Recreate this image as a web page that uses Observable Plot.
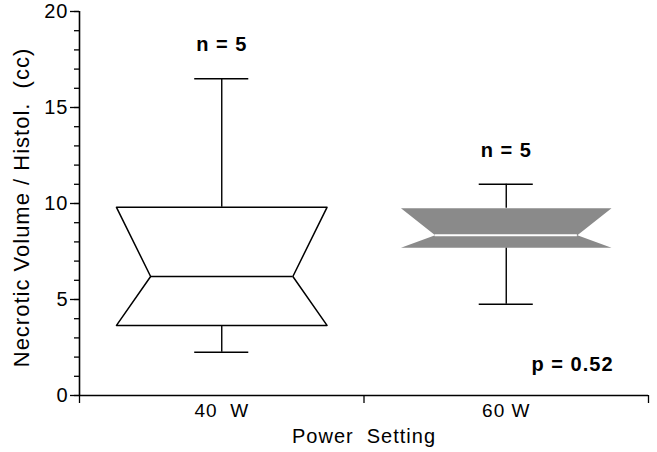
<!DOCTYPE html>
<html><head><meta charset="utf-8">
<script src="https://cdn.jsdelivr.net/npm/d3@7"></script>
<script src="https://cdn.jsdelivr.net/npm/@observablehq/plot@0.6"></script>
<style>
body{margin:0;background:#fff}
svg{font-family:Arial,"Liberation Sans",sans-serif;color:#000}
</style>
</head><body><div id="chart"></div>
<script>
const categories = ["40  W", "60 W"];
const minVals = [2.25, 4.75];
const q1Vals = [3.65, 7.7];
const medVals = [6.2, 8.35];
const q3Vals = [9.8, 9.75];
const maxVals = [16.5, 11.0];
const nLabels = ["n = 5", "n = 5"];
const pLabel = "p = 0.52";
const yMajorTicks = [0, 5, 10, 15, 20];
const yMinorTicks = d3.range(0, 21);
const xLabel = "Power  Setting";
const yLabel = "Necrotic Volume / Histol.  (cc)";

const boxes = categories.map((c, i) => ({
  cat: c, x: i + 0.5, min: minVals[i], q1: q1Vals[i], med: medVals[i],
  q3: q3Vals[i], max: maxVals[i], n: nLabels[i]
}));
const halfBox = 0.37, halfNotch = 0.25, halfCap = 0.095;
const polyOf = b => [
  {x: b.x - halfBox, y: b.q3},
  {x: b.x + halfBox, y: b.q3},
  {x: b.x + halfNotch, y: b.med},
  {x: b.x + halfBox, y: b.q1},
  {x: b.x - halfBox, y: b.q1},
  {x: b.x - halfNotch, y: b.med},
  {x: b.x - halfBox, y: b.q3}
];

const chart = Plot.plot({
  width: 657, height: 452,
  marginLeft: 79, marginRight: 9, marginTop: 11, marginBottom: 57,
  x: {domain: [0, 2]},
  y: {domain: [0, 20]},
  style: {fontFamily: "Arial, 'Liberation Sans', sans-serif", color: "#000", background: "#fff"},
  marks: [
    Plot.axisY({ticks: yMinorTicks, tickSize: 5, tickFormat: () => "", label: null, strokeWidth: 1.3}),
    Plot.axisY({ticks: yMajorTicks, tickSize: 9, tickPadding: 2, fontSize: 20, label: null, strokeWidth: 1.3}),
    Plot.axisX({ticks: [0, 1, 2], tickSize: 8, tickFormat: () => "", label: null, strokeWidth: 1.3}),
    Plot.axisX({ticks: [0.5, 1.5], tickSize: 0, tickPadding: 8, fontSize: 19,
      tickFormat: d => categories[Math.floor(d)], label: null}),
    Plot.ruleX([0], {strokeWidth: 1.6}),
    Plot.ruleY([0], {strokeWidth: 1.4}),
    // whiskers
    Plot.ruleX(boxes, {x: "x", y1: "q3", y2: "max", strokeWidth: 1.4}),
    Plot.ruleX(boxes, {x: "x", y1: "min", y2: "q1", strokeWidth: 1.4}),
    Plot.ruleY(boxes, {y: "max", x1: d => d.x - halfCap, x2: d => d.x + halfCap, strokeWidth: 1.4}),
    Plot.ruleY(boxes, {y: "min", x1: d => d.x - halfCap, x2: d => d.x + halfCap, strokeWidth: 1.4}),
    // notched boxes
    Plot.line(polyOf(boxes[0]), {x: "x", y: "y", fill: "#fff", stroke: "#000", strokeWidth: 1.5, curve: "linear"}),
    Plot.line(polyOf(boxes[1]), {x: "x", y: "y", fill: "#8a8a8a", stroke: "none", curve: "linear"}),
    Plot.ruleY([boxes[0]], {y: "med", x1: d => d.x - halfNotch, x2: d => d.x + halfNotch, stroke: "#000", strokeWidth: 1.5}),
    Plot.ruleY([boxes[1]], {y: "med", x1: d => d.x - halfNotch, x2: d => d.x + halfNotch, stroke: "#fff", strokeWidth: 2}),
    // labels
    Plot.text(boxes, {x: "x", y: "max", text: "n", dy: -34, fontSize: 20, fontWeight: "bold"}),
    Plot.text([pLabel], {frameAnchor: "bottom-right", textAnchor: "end", lineAnchor: "bottom", dx: -35, dy: -25, fontSize: 20, fontWeight: "bold"}),
    Plot.text([xLabel], {frameAnchor: "bottom", textAnchor: "middle", lineAnchor: "middle", dy: 41, fontSize: 20}),
    Plot.text([yLabel], {frameAnchor: "left", textAnchor: "middle", lineAnchor: "middle", rotate: -90, dx: -58, dy: 4, fontSize: 22})
  ]
});
chart.querySelectorAll("text").forEach(t => t.setAttribute("letter-spacing", "1"));
document.getElementById("chart").appendChild(chart);
</script>
</body></html>
